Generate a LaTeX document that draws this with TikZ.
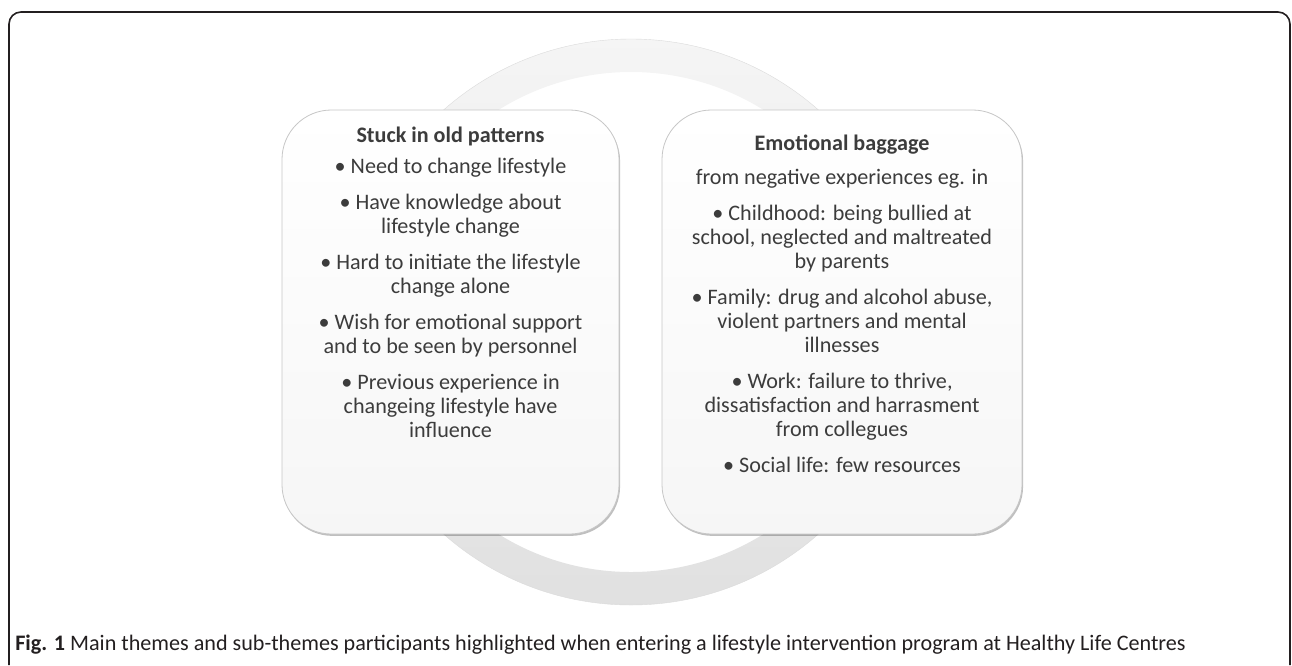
\documentclass[tikz,border=0pt]{standalone}
\usepackage{fontspec}
\setmainfont{Carlito}
\usepackage{tikz}
\usetikzlibrary{positioning,shadows,calc}

\definecolor{txtgray}{HTML}{3C3C3C}
\definecolor{framegray}{HTML}{231F20}
\definecolor{edgegray}{HTML}{C6C6C6}

\tikzset{
  themebox/.style={rectangle, rounded corners=37pt, draw=edgegray, line width=0.6pt,
    top color=white, bottom color=gray!7, minimum height=318pt,
    drop shadow={shadow xshift=0.8pt, shadow yshift=-1.4pt, opacity=0.25, fill=black}},
  themetext/.style={align=center, inner sep=0pt, text=txtgray,
    font=\fontsize{16.6}{18}\selectfont},
  captiontext/.style={anchor=base west, inner sep=0pt, text=framegray,
    font=\fontsize{16.6}{18}\selectfont}
}

\begin{document}
\begin{tikzpicture}[x=0.75pt, y=-0.75pt]
        \useasboundingbox (0,0) rectangle (1292,665);

        % Rahmen
        \draw[framegray, line width=1.2pt, rounded corners=9pt] (9,665) -- (9,12) -- (1290,12) -- (1290,665);

        % Ring
        \coordinate (hub) at (631,322);
        \shade[top color=gray!8, bottom color=gray!24, even odd rule]
          (hub) circle[radius=283] (hub) circle[radius=250];
        \draw[gray!28, line width=0.3pt] (hub) circle[radius=283];

        % Boxen
        \node[themebox, minimum width=252.75pt] (stuck) at (450.5,322) {};
        \node[themebox, minimum width=270pt] (baggage) at (842,322) {};

        % Texte
        \node[themetext, below=13pt of stuck.north] (stucktext) {%
          \textbf{Stuck in old patterns}\\[5pt]
          • Need to change lifestyle\\[9pt]
          • Have knowledge about\\ lifestyle change\\[9pt]
          • Hard to initiate the lifestyle\\ change alone\\[9pt]
          • Wish for emotional support\\ and to be seen by personnel\\[9pt]
          • Previous experience in\\ changeing lifestyle have\\ influence};
        \node[themetext, below=18.5pt of baggage.north] (baggagetext) {%
          \textbf{Emotional baggage}\\[8pt]
          from negative experiences eg. in\\[9pt]
          • Childhood: being bullied at\\ school, neglected and maltreated\\ by parents\\[9pt]
          • Family: drug and alcohol abuse,\\ violent partners and mental\\ illnesses\\[9pt]
          • Work: failure to thrive,\\ dissatisfaction and harrasment\\ from collegues\\[9pt]
          • Social life: few resources};

        % Legende
        \node[captiontext] (caption) at (15,650) {\textbf{Fig. 1} Main themes and sub-themes participants highlighted when entering a lifestyle intervention program at Healthy Life Centres};
    \end{tikzpicture}
\end{document}
